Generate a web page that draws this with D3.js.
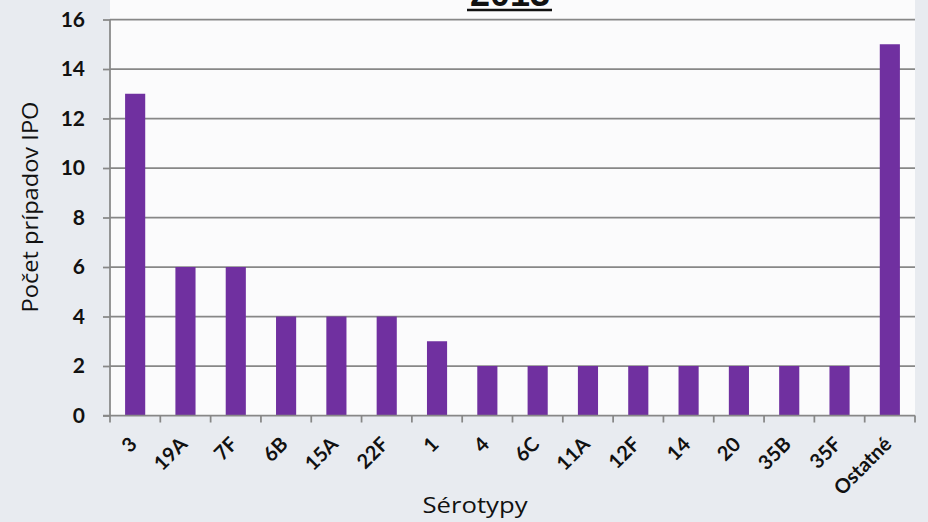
<!DOCTYPE html>
<html>
<head>
<meta charset="utf-8">
<script src="https://cdn.jsdelivr.net/npm/d3@7"></script>
<style>
  body { margin: 0; background: #e9ebf1; }
  svg { display: block; }
</style>
</head>
<body>
<svg></svg>
<script>
var serotypes = ["3", "19A", "7F", "6B", "15A", "22F", "1", "4", "6C", "11A", "12F", "14", "20", "35B", "35F", "Ostatné"];
var cases = [13, 6, 6, 4, 4, 4, 3, 2, 2, 2, 2, 2, 2, 2, 2, 15];
var yTicks = [0, 2, 4, 6, 8, 10, 12, 14, 16];
var titleText = "2013";

var svgWidth = 928, svgHeight = 522;
var margin = { top: 19.5, right: 13, bottom: 106.5, left: 110 };
var font = "Lato, 'Open Sans', sans-serif";

var svg = d3.select("svg")
    .attr("width", svgWidth)
    .attr("height", svgHeight);

// page background
svg.append("rect")
    .attr("width", svgWidth)
    .attr("height", svgHeight)
    .attr("fill", "#e8ebf0");

var x = d3.scaleBand()
    .domain(serotypes)
    .range([margin.left, svgWidth - margin.right])
    .paddingInner(0.6)
    .paddingOuter(0.3);

var y = d3.scaleLinear()
    .domain([0, 16])
    .range([svgHeight - margin.bottom, margin.top]);

// plot area
svg.append("rect")
    .attr("x", margin.left)
    .attr("y", 0)
    .attr("width", svgWidth - margin.right - margin.left)
    .attr("height", y(0))
    .attr("fill", "#fbfbfc");

// gridlines
svg.append("g")
    .selectAll("line")
    .data(yTicks.filter(function(d) { return d > 0; }))
    .join("line")
    .attr("x1", margin.left)
    .attr("x2", svgWidth - margin.right)
    .attr("y1", function(d) { return y(d); })
    .attr("y2", function(d) { return y(d); })
    .attr("stroke", "#878787")
    .attr("stroke-width", 1.75);

// bars
svg.append("g")
    .selectAll("rect")
    .data(serotypes)
    .join("rect")
    .attr("x", function(d) { return x(d); })
    .attr("y", function(d, i) { return y(cases[i]); })
    .attr("width", x.bandwidth())
    .attr("height", function(d, i) { return y(0) - y(cases[i]); })
    .attr("fill", "#7030a0");

// y axis
var yAxis = svg.append("g")
    .attr("transform", "translate(" + margin.left + ",0)")
    .call(d3.axisLeft(y).tickValues(yTicks).tickSize(7).tickPadding(18));
yAxis.selectAll("line, path").attr("stroke", "#878787").attr("stroke-width", 1.75);
yAxis.select(".domain").attr("d", "M0," + y(16) + "V" + y(0));
yAxis.selectAll("text")
    .attr("font-family", font)
    .attr("font-weight", "bold")
    .attr("font-size", 21)
    .attr("fill", "#111");

// x axis line and boundary ticks
var step = x.step();
var bounds = serotypes.map(function(d) { return x(d) - step * 0.3; });
bounds.push(x(serotypes[serotypes.length - 1]) + x.bandwidth() + step * 0.3);

var xAxis = svg.append("g");
xAxis.append("line")
    .attr("x1", margin.left - 7)
    .attr("x2", svgWidth - margin.right)
    .attr("y1", y(0))
    .attr("y2", y(0))
    .attr("stroke", "#878787")
    .attr("stroke-width", 1.75);
xAxis.selectAll(".tk")
    .data(bounds)
    .join("line")
    .attr("class", "tk")
    .attr("x1", function(d) { return d; })
    .attr("x2", function(d) { return d; })
    .attr("y1", y(0))
    .attr("y2", y(0) + 7)
    .attr("stroke", "#878787")
    .attr("stroke-width", 1.75);

xAxis.selectAll(".lbl")
    .data(serotypes)
    .join("text")
    .attr("class", "lbl")
    .attr("transform", function(d) {
        return "translate(" + (x(d) + x.bandwidth() / 2 + 3) + "," + (y(0) + 30) + ") rotate(-45)";
    })
    .attr("text-anchor", "end")
    .attr("font-family", font)
    .attr("font-weight", "bold")
    .attr("font-size", 20)
    .attr("fill", "#111")
    .text(function(d) { return d; });

// axis titles
svg.append("text")
    .attr("transform", "translate(38,207) rotate(-90)")
    .attr("text-anchor", "middle")
    .attr("font-family", "'Open Sans', sans-serif")
    .attr("font-size", 21)
    .attr("textLength", 211)
    .attr("lengthAdjust", "spacingAndGlyphs")
    .attr("fill", "#111")
    .text("Počet prípadov IPO");

svg.append("text")
    .attr("x", 475)
    .attr("y", 513)
    .attr("text-anchor", "middle")
    .attr("font-family", "'Open Sans', sans-serif")
    .attr("font-size", 21)
    .attr("textLength", 105)
    .attr("lengthAdjust", "spacingAndGlyphs")
    .attr("fill", "#111")
    .text("Sérotypy");

// title, mostly cut off at the top
svg.append("text")
    .attr("x", 510)
    .attr("y", 6)
    .attr("text-anchor", "middle")
    .attr("font-family", "'Liberation Sans', Arial, sans-serif")
    .attr("font-weight", "bold")
    .attr("font-size", 36)
    .attr("fill", "#111")
    .text(titleText);
svg.append("line")
    .attr("x1", 467)
    .attr("x2", 552)
    .attr("y1", 10)
    .attr("y2", 10)
    .attr("stroke", "#111")
    .attr("stroke-width", 2.5);
</script>
</body>
</html>
